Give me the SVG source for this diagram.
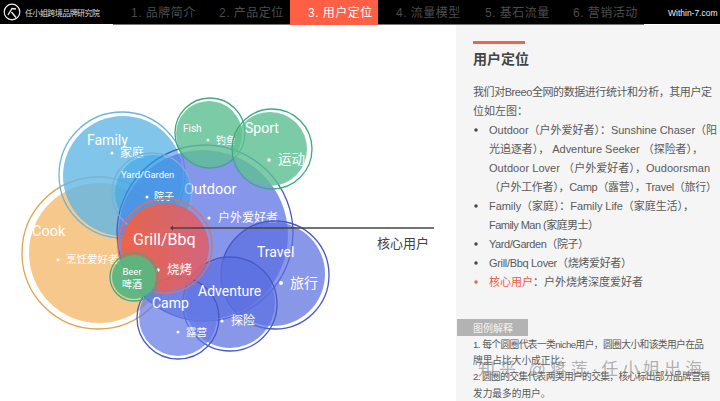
<svg xmlns="http://www.w3.org/2000/svg" width="720" height="401" viewBox="0 0 720 401">
<style>
text{font-family:"Liberation Sans","Noto Sans CJK SC",sans-serif}
.lat{font-family:Roboto,"Noto Sans CJK SC",sans-serif;fill:#fff}
.nav{font-size:12px;fill:#4c4c4c;letter-spacing:.5px}
.ring{fill:none;stroke-width:1.3}
.b{fill:#5b6fe0;fill-opacity:.72}.br{stroke:#4659c6}
.g{fill:#5fbf94;fill-opacity:.82}.gr{stroke:#3cac80}
.sky{fill:#62b6e6;fill-opacity:.8}.skr{stroke:#6db5de}
.o{fill:#f3b564;fill-opacity:.75}.or{stroke:#e3a34e}
.rr{stroke:#e0705f}
.dot{fill:#fff}
.zh{fill:#fff;font-size:12px;font-family:"Noto Sans CJK SC",sans-serif}
.body{font-size:11px;fill:#5a5a5a}
.leg{font-size:9.7px;fill:#5a5a5a}
.bul{fill:#444}
</style>
<defs>
<linearGradient id="grillFill" x1="0" y1="0" x2="1" y2="0">
<stop offset="0" stop-color="#f4613f" stop-opacity=".92"/>
<stop offset="1" stop-color="#dc5f6e" stop-opacity=".88"/>
</linearGradient>
</defs>
<rect width="720" height="401" fill="#fff"/>
<g id="side-panel">
<rect x="456" y="25" width="264" height="376" fill="#f5f5f5"/>
<rect x="473" y="41" width="52" height="3" fill="#ee6450"/>
<text x="473" y="64" font-size="14" font-weight="700" fill="#444">用户定位</text>
<text class="body" x="473" y="96" textLength="239">我们对Breeo全网的数据进行统计和分析，其用户定</text>
<text class="body" x="473" y="115">位如左图：</text>
<circle class="bul" cx="476" cy="130" r="1.7"/>
<text class="body" x="489" y="134" textLength="228">Outdoor（户外爱好者）：Sunshine Chaser（阳</text>
<text class="body" x="489" y="153" textLength="214">光追逐者）， Adventure Seeker （探险者），</text>
<text class="body" x="489" y="172" textLength="221">Outdoor Lover （户外爱好者），Oudoorsman</text>
<text class="body" x="489" y="191" textLength="228">（户外工作者），Camp（露营），Travel（旅行）</text>
<circle class="bul" cx="476" cy="206" r="1.7"/>
<text class="body" x="489" y="210" textLength="205">Family（家庭）：Family Life（家庭生活），</text>
<text class="body" x="489" y="229" textLength="110">Family Man (家庭男士）</text>
<circle class="bul" cx="476" cy="244" r="1.7"/>
<text class="body" x="489" y="248" textLength="100">Yard/Garden（院子）</text>
<circle class="bul" cx="476" cy="263" r="1.7"/>
<text class="body" x="489" y="267" textLength="143">Grill/Bbq Lover（烧烤爱好者）</text>
<circle cx="476" cy="282" r="1.7" fill="#ee5c46"/>
<text class="body" x="489" y="286"><tspan fill="#ee5c46">核心用户</tspan>：户外烧烤深度爱好者</text>
<rect x="457" y="319" width="71" height="17" fill="#b3b3b3"/>
<text x="473" y="332" font-size="10" fill="#f2f2f2">图例解释</text>
<text class="leg" x="473" y="348" textLength="231">1. 每个圆圈代表一类niche用户，圆圈大小和该类用户在品</text>
<text class="leg" x="473" y="364">牌里占比大小成正比；</text>
<text class="leg" x="473" y="380" textLength="237">2. 圆圈的交集代表两类用户的交集，核心标出部分品牌营销</text>
<text class="leg" x="473" y="397">发力最多的用户。</text>
<text x="478" y="375" font-size="17" fill="#808080" fill-opacity=".6" textLength="224">知乎 @蒋莲·任小姐出海</text>
</g>
<g id="header">
<rect width="720" height="24" fill="#000"/>
<rect x="113" y="24" width="531" height="1" fill="#777"/>
<rect x="290" width="88" height="25" fill="#ff5f45"/>
<g fill="none" stroke="#eee">
<circle cx="12" cy="12" r="7.8" stroke-width="1.2"/>
<path d="M8 15 L12 8.5 L16 9 M11.5 12 L16 17.5" stroke-width="1.4"/>
</g>
<text x="25" y="16" font-size="8" fill="#ddd" textLength="75">任小姐跨境品牌研究院</text>
<text class="nav" x="131" y="17">1. 品牌简介</text>
<text class="nav" x="219" y="17">2. 产品定位</text>
<text class="nav" x="308" y="17" style="fill:#fff">3. 用户定位</text>
<text class="nav" x="396" y="17">4. 流量模型</text>
<text class="nav" x="485" y="17">5. 基石流量</text>
<text class="nav" x="573" y="17">6. 营销活动</text>
<text x="668" y="16" font-size="8.5" fill="#eee">Within-7.com</text>
</g>
<g id="node-cook">
<circle class="o" cx="99" cy="253" r="70"/><circle class="ring or" cx="98" cy="253" r="76"/>
<text class="lat" x="32" y="236" font-size="14.5">Cook</text>
<circle class="dot" cx="58" cy="260" r="1.4"/><text class="zh" style="font-size:10.5px" x="66" y="263">烹饪爱好者</text>
</g>
<g id="node-family">
<circle class="sky" cx="123" cy="176" r="60"/><circle class="ring skr" cx="122" cy="175" r="63"/>
<text class="lat" x="87" y="145" font-size="14">Family</text>
<circle class="dot" cx="112" cy="153" r="1.5"/><text class="zh" x="120" y="157">家庭</text>
</g>
<g id="node-outdoor">
<circle class="b" cx="203" cy="235" r="85" style="fill:#6478e6;fill-opacity:.78"/><circle class="ring br" cx="205" cy="233" r="88"/>
<text class="lat" x="184" y="194" font-size="14.5">Outdoor</text>
<circle class="dot" cx="209" cy="218" r="1.6"/><text class="zh" x="218" y="222">户外爱好者</text>
</g>
<g id="node-yard">
<circle style="fill:#35a3e8;fill-opacity:.55" cx="153" cy="193" r="38"/><circle class="ring skr" cx="152" cy="193" r="40"/>
<text class="lat" x="121" y="178" font-size="9.5">Yard/Garden</text>
<circle class="dot" cx="147" cy="197" r="1.5"/><text class="zh" style="font-size:10px" x="154" y="200">院子</text>
</g>
<g id="node-fish">
<circle class="g" cx="209" cy="134" r="33"/><circle class="ring gr" cx="210" cy="133" r="35"/>
<text class="lat" x="183" y="132" font-size="10">Fish</text>
<circle class="dot" cx="208" cy="140" r="1.5"/><text class="zh" style="font-size:10px" x="216" y="144">钓鱼</text>
</g>
<g id="node-sport">
<circle class="g" cx="270" cy="149" r="37"/><circle class="ring gr" cx="272" cy="149" r="40"/>
<text class="lat" x="245" y="133" font-size="14">Sport</text>
<circle class="dot" cx="269" cy="160" r="1.8"/><text class="zh" style="font-size:13.5px" x="278" y="164">运动</text>
</g>
<g id="node-travel">
<circle class="b" cx="273" cy="274" r="52"/><circle class="ring br" cx="275" cy="275" r="54"/>
<text class="lat" x="257" y="257" font-size="14">Travel</text>
<circle class="dot" cx="281" cy="283" r="2"/><text class="zh" style="font-size:14px" x="290" y="288">旅行</text>
</g>
<g id="node-adventure">
<circle class="b" cx="230" cy="303" r="45"/><circle class="ring br" cx="230" cy="304" r="47"/>
<circle class="dot" cx="222" cy="321" r="1.6"/><text class="zh" x="231" y="325">探险</text>
</g>
<g id="node-camp">
<circle class="b" cx="178" cy="317" r="39" style="fill:#6478e6;fill-opacity:.72"/><circle class="ring br" cx="178" cy="318" r="41"/>
<text class="lat" x="152" y="308" font-size="14">Camp</text>
<circle class="dot" cx="178" cy="332" r="1.5"/><text class="zh" style="font-size:10.5px" x="186" y="336">露营</text>
</g>
<g id="node-adventure-label">
<text class="lat" x="198" y="296" font-size="14">Adventure</text>
</g>
<g id="node-grill">
<circle cx="165" cy="247" r="44" fill="url(#grillFill)"/><circle class="ring rr" cx="165" cy="246" r="47"/>
<text class="lat" x="133" y="245" font-size="16">Grill/Bbq</text>
<circle class="dot" cx="158" cy="270" r="1.7"/><text class="zh" style="font-size:12.5px" x="167" y="274">烧烤</text>
</g>
<g id="node-beer">
<circle class="g" cx="134" cy="277" r="22" style="fill:#57b77f;fill-opacity:.95"/><circle class="ring gr" cx="134" cy="277" r="24"/>
<text class="lat" x="132" y="275" font-size="9.5" text-anchor="middle">Beer</text>
<text class="zh" style="font-size:10px" x="132" y="288" text-anchor="middle">啤酒</text>
</g>
<g id="connectors">
<path d="M172 228H434" stroke="#444" stroke-width="1.3" fill="none"/>
<path d="M170 228l3-2.5v5z" fill="#444"/>
</g>
<text x="377" y="248" font-size="13" fill="#444">核心用户</text>
</svg>
